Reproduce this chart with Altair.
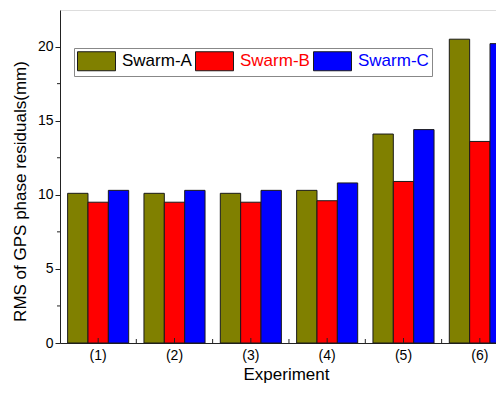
import altair as alt
import pandas as pd

experiments = ["(1)", "(2)", "(3)", "(4)", "(5)", "(6)"]
series = ["Swarm-A", "Swarm-B", "Swarm-C"]
swarm_a = [10.1, 10.1, 10.1, 10.3, 14.1, 20.5]
swarm_b = [9.5, 9.5, 9.5, 9.6, 10.9, 13.6]
swarm_c = [10.3, 10.3, 10.3, 10.8, 14.4, 20.2]
colors = ["#808000", "#ff0000", "#0000ff"]
y_major = [0, 5, 10, 15, 20]
y_minor = [2.5, 7.5, 12.5, 17.5]

rows = []
for s, vals in zip(series, [swarm_a, swarm_b, swarm_c]):
    for e, v in zip(experiments, vals):
        rows.append({"exp": e, "series": s, "value": v})
df = pd.DataFrame(rows)
df_exp = pd.DataFrame({"exp": experiments})
df_minor = pd.DataFrame({"v": y_minor})

FONT = "Liberation Sans"
H = 333
xscale = alt.Scale(domain=experiments, range=[0, 458], paddingInner=0.2, paddingOuter=0.1)
yscale = alt.Scale(domain=[0, 22.47], nice=False, zero=True)

label_expr = "datum.value == 'Swarm-B' ? '#ff0000' : (datum.value == 'Swarm-C' ? '#0000ff' : '#000000')"

bars = alt.Chart(df).mark_bar(stroke="#1a1a1a", strokeWidth=1).encode(
    x=alt.X("exp:N", scale=xscale, sort=experiments,
            axis=alt.Axis(title="Experiment", labelAngle=0, ticks=False,
                          labelFontSize=14, labelPadding=5, titleFontSize=17,
                          domainColor="#222", labelColor="#000",
                          titleColor="#000", titleFontWeight="normal",
                          titleX=226, titleY=23, titleBaseline="top")),
    xOffset=alt.XOffset("series:N", sort=series,
                        scale=alt.Scale(domain=series, paddingInner=0, paddingOuter=0)),
    y=alt.Y("value:Q", scale=yscale,
            axis=alt.Axis(title="RMS of GPS phase residuals(mm)", values=y_major,
                          tickSize=5, labelFontSize=14, labelPadding=2, grid=False,
                          domainColor="#222", tickColor="#222", labelColor="#000",
                          titleColor="#000", titleFontSize=17, titleFontWeight="normal",
                          titleX=-31, titleY=181)),
    color=alt.Color("series:N", sort=series,
                    scale=alt.Scale(domain=series, range=colors),
                    legend=alt.Legend(orient="none", legendX=14, legendY=38,
                                      direction="horizontal", columns=3, title=None,
                                      symbolType="M-1,-1L3,-1L3,1L-1,1Z",
                                      symbolSize=361, symbolStrokeColor="#1a1a1a",
                                      symbolStrokeWidth=1, symbolOpacity=1,
                                      labelFontSize=17, labelOffset=25, columnPadding=1,
                                      padding=3, strokeColor="#888888", fillColor="white",
                                      labelLimit=200,
                                      labelColor=alt.ExprRef(expr=label_expr))),
)

center_ticks = alt.Chart(df_exp).mark_rule(color="#222", strokeWidth=1).encode(
    x=alt.X("exp:N", scale=xscale, sort=experiments, bandPosition=0.5),
    y=alt.value(H), y2=alt.value(H - 5),
)
gap_ticks = alt.Chart(df_exp).mark_rule(color="#222", strokeWidth=1, xOffset=7.6).encode(
    x=alt.X("exp:N", scale=xscale, sort=experiments, bandPosition=1),
    y=alt.value(H), y2=alt.value(H - 4),
)
minor_ticks = alt.Chart(df_minor).mark_rule(color="#222", strokeWidth=1).encode(
    y=alt.Y("v:Q", scale=yscale),
    x=alt.value(-3), x2=alt.value(0),
)

chart = alt.layer(bars, center_ticks, gap_ticks, minor_ticks).properties(
    width=436, height=H,
    autosize=alt.AutoSizeParams(type="none"),
    padding={"left": 52, "top": 2, "right": 0, "bottom": 42},
).configure_view(stroke=None).configure(font=FONT)

chart.save("out.html", embed_options={"renderer": "svg", "actions": False})
